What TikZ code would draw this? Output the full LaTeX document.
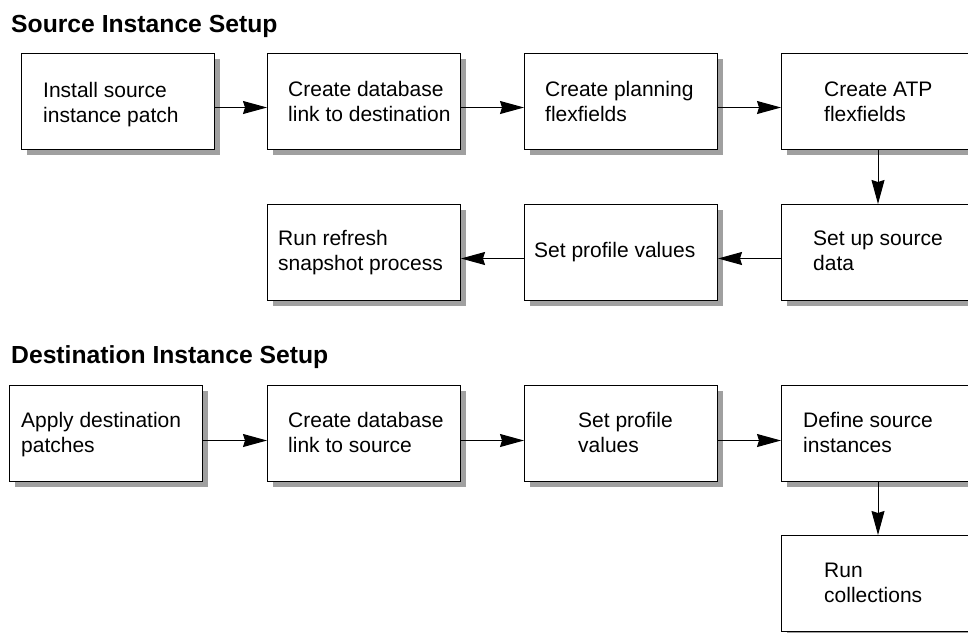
\documentclass[tikz,border=0pt]{standalone}
\usepackage{fontspec}
\setmainfont{Liberation Sans}
\usetikzlibrary{arrows.meta,shadows}
\definecolor{shadowgray}{RGB}{160,160,160}
\tikzset{
  box/.style={draw=black, line width=1pt, fill=white, minimum width=193pt, minimum height=96pt,
    inner sep=0pt, anchor=north west,
    drop shadow={shadow xshift=5pt, shadow yshift=-5pt, fill=shadowgray, opacity=1}},
  boxtext/.style={anchor=base west, align=left, inner sep=0pt, font=\fontsize{21}{25.5}\selectfont},
  title/.style={anchor=base west, inner sep=0pt, font=\fontsize{24.7}{28}\selectfont\bfseries},
  flow/.style={draw=black, line width=1pt, -{Stealth[length=24pt, width=13pt, inset=2pt]}}
}
\begin{document}
\begin{tikzpicture}[x=1pt, y=-1pt]
\useasboundingbox (0,0) rectangle (968,632);
\clip (0,0) rectangle (968,632);
\fill[white] (0,0) rectangle (968,632);

% titles
\node[title] (tsrc) at (11,32) {Source Instance Setup};
\node[title] (tdst) at (11,363) {Destination Instance Setup};

% source boxes
\node[box] (b1) at (21,53) {};
\node[box] (b2) at (267,53) {};
\node[box] (b3) at (524,53) {};
\node[box] (b4) at (781,53) {};
\node[box] (b5) at (781,204) {};
\node[box] (b6) at (524,204) {};
\node[box] (b7) at (267,204) {};

% (anchor base = baseline of the last line)
\node[boxtext] (x1) at ([shift={(22,69.5)}]b1.north west) {Install source\\instance patch};
\node[boxtext] (x2) at ([shift={(21,68.5)}]b2.north west) {Create database\\link to destination};
\node[boxtext] (x3) at ([shift={(21,68.5)}]b3.north west) {Create planning\\flexfields};
\node[boxtext] (x4) at ([shift={(43,68.5)}]b4.north west) {Create ATP\\flexfields};
\node[boxtext] (x5) at ([shift={(32,66.5)}]b5.north west) {Set up source\\data};
\node[boxtext] (x6) at ([shift={(10,53)}]b6.north west) {Set profile values};
\node[boxtext] (x7) at ([shift={(11,66.5)}]b7.north west) {Run refresh\\snapshot process};

% destination boxes
\node[box] (d1) at (9,385) {};
\node[box] (d2) at (267,385) {};
\node[box] (d3) at (524,385) {};
\node[box] (d4) at (781,385) {};
\node[box] (d5) at (781,535) {};

\node[boxtext] (y1) at ([shift={(12,67.5)}]d1.north west) {Apply destination\\patches};
\node[boxtext] (y2) at ([shift={(21,67.5)}]d2.north west) {Create database\\link to source};
\node[boxtext] (y3) at ([shift={(54,67.5)}]d3.north west) {Set profile\\values};
\node[boxtext] (y4) at ([shift={(22,67.5)}]d4.north west) {Define source\\instances};
\node[boxtext] (y5) at ([shift={(43,67.5)}]d5.north west) {Run\\collections};

% connectors
\draw[flow] ([yshift=-6pt]b1.east) -- ([yshift=-6pt]b2.west);
\draw[flow] ([yshift=-6pt]b2.east) -- ([yshift=-6pt]b3.west);
\draw[flow] ([yshift=-6pt]b3.east) -- ([yshift=-6pt]b4.west);
\draw[flow] (b4.south) -- (b5.north);
\draw[flow] ([yshift=-6pt]b5.west) -- ([yshift=-6pt]b6.east);
\draw[flow] ([yshift=-6pt]b6.west) -- ([yshift=-6pt]b7.east);

\draw[flow] ([yshift=-7pt]d1.east) -- ([yshift=-7pt]d2.west);
\draw[flow] ([yshift=-7pt]d2.east) -- ([yshift=-7pt]d3.west);
\draw[flow] ([yshift=-7pt]d3.east) -- ([yshift=-7pt]d4.west);
\draw[flow] (d4.south) -- (d5.north);
\end{tikzpicture}
\end{document}
